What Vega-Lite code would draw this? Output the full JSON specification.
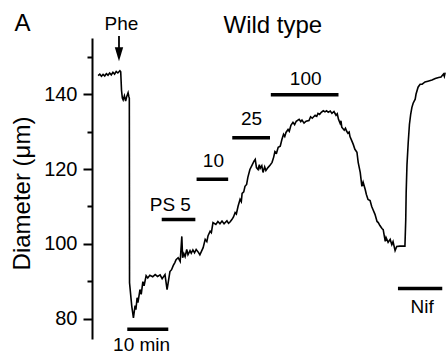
{
  "$schema": "https://vega.github.io/schema/vega-lite/v6.json",
  "width": 356,
  "height": 301,
  "autosize": {"type": "none"},
  "padding": {"left": 92, "top": 38, "right": 0, "bottom": 15},
  "background": "white",
  "config": {"view": {"stroke": null}, "font": "Liberation Sans"},
  "datasets": {
    "trace": [
      {"t":1.5,"d":145.0},{"t":1.9,"d":145.4},{"t":2.3,"d":144.8},{"t":2.7,"d":145.3},{"t":3.1,"d":144.9},{"t":3.5,"d":145.5},{"t":3.9,"d":145.1},{"t":4.3,"d":145.7},{"t":4.7,"d":145.2},{"t":5.1,"d":145.9},{"t":5.5,"d":145.4},{"t":5.9,"d":146.1},{"t":6.3,"d":145.7},{"t":6.8,"d":146.3},{"t":7.0,"d":146.0},{"t":7.2,"d":141.0},{"t":7.4,"d":139.0},{"t":7.6,"d":138.5},{"t":7.9,"d":139.6},{"t":8.2,"d":138.2},{"t":8.5,"d":139.5},{"t":8.8,"d":140.4},{"t":9.0,"d":139.3},{"t":9.1,"d":139.0},
      {"t":9.15,"d":89.6},{"t":9.7,"d":83.3},{"t":10.1,"d":80.2},{"t":10.5,"d":83.5},{"t":10.7,"d":82.4},{"t":11.0,"d":85.6},{"t":11.2,"d":84.3},{"t":11.7,"d":87.8},{"t":12.0,"d":86.5},{"t":12.4,"d":89.9},{"t":12.7,"d":88.8},{"t":13.2,"d":91.5},{"t":13.6,"d":90.9},{"t":14.1,"d":91.6},{"t":14.8,"d":91.2},{"t":15.4,"d":91.8},{"t":16.0,"d":91.3},{"t":16.6,"d":91.7},{"t":17.1,"d":90.7},{"t":17.8,"d":91.8},{"t":18.3,"d":87.8},{"t":18.5,"d":89.1},{"t":19.0,"d":92.6},{"t":19.4,"d":93.1},{"t":19.8,"d":94.2},{"t":20.2,"d":95.0},{"t":20.5,"d":95.8},{"t":21.0,"d":96.3},{"t":21.5,"d":95.3},{"t":21.9,"d":102.0},{"t":22.1,"d":96.3},{"t":22.4,"d":97.4},{"t":22.7,"d":96.6},{"t":23.1,"d":98.5},{"t":23.4,"d":97.1},{"t":23.9,"d":98.2},{"t":24.2,"d":97.5},{"t":24.6,"d":98.4},{"t":25.0,"d":97.6},{"t":25.4,"d":98.5},{"t":25.9,"d":97.8},{"t":26.3,"d":97.1},{"t":27.1,"d":99.0},{"t":27.6,"d":101.2},{"t":28.0,"d":100.6},{"t":28.3,"d":102.2},{"t":28.8,"d":103.4},{"t":29.1,"d":103.0},{"t":29.5,"d":105.7},{"t":30.2,"d":105.2},{"t":30.7,"d":106.0},{"t":31.2,"d":105.4},{"t":31.7,"d":106.1},{"t":32.2,"d":105.4},{"t":32.9,"d":106.2},{"t":33.3,"d":105.5},{"t":33.7,"d":105.9},{"t":34.1,"d":106.5},{"t":34.5,"d":107.2},{"t":34.9,"d":108.4},{"t":35.2,"d":108.0},{"t":35.6,"d":110.0},{"t":36.1,"d":111.9},{"t":36.4,"d":111.3},{"t":36.6,"d":113.5},{"t":37.0,"d":113.9},{"t":37.3,"d":115.4},{"t":37.7,"d":115.9},{"t":38.0,"d":117.8},{"t":38.5,"d":119.9},{"t":39.0,"d":121.0},{"t":39.5,"d":122.1},{"t":39.8,"d":122.6},{"t":40.1,"d":120.4},{"t":40.5,"d":119.9},{"t":40.8,"d":121.2},{"t":41.0,"d":120.2},{"t":41.4,"d":120.9},{"t":41.7,"d":119.1},{"t":42.1,"d":120.6},{"t":42.4,"d":119.6},{"t":42.9,"d":120.4},{"t":43.4,"d":121.0},{"t":43.9,"d":121.8},{"t":44.3,"d":123.2},{"t":44.6,"d":124.7},{"t":45.0,"d":124.3},{"t":45.4,"d":125.8},{"t":45.9,"d":126.1},{"t":46.3,"d":127.9},{"t":46.7,"d":129.3},{"t":47.0,"d":128.7},{"t":47.3,"d":129.8},{"t":47.8,"d":130.6},{"t":48.1,"d":130.1},{"t":48.5,"d":131.7},{"t":49.0,"d":132.5},{"t":49.4,"d":131.9},{"t":49.8,"d":132.8},{"t":50.5,"d":133.3},{"t":50.9,"d":132.7},{"t":51.2,"d":133.1},{"t":51.7,"d":132.3},{"t":52.2,"d":132.8},{"t":52.9,"d":133.0},{"t":53.3,"d":134.0},{"t":53.7,"d":133.6},{"t":54.4,"d":134.4},{"t":54.8,"d":134.1},{"t":55.1,"d":134.9},{"t":55.5,"d":134.6},{"t":55.9,"d":135.2},{"t":56.4,"d":135.6},{"t":56.8,"d":135.3},{"t":57.2,"d":135.6},{"t":57.6,"d":135.2},{"t":58.1,"d":135.5},{"t":58.5,"d":134.9},{"t":59.0,"d":135.4},{"t":59.5,"d":134.4},{"t":59.8,"d":134.8},{"t":60.1,"d":133.3},{"t":60.5,"d":132.2},{"t":60.7,"d":132.9},{"t":60.9,"d":131.2},{"t":61.5,"d":130.4},{"t":61.8,"d":130.9},{"t":62.1,"d":130.1},{"t":62.4,"d":129.6},{"t":62.7,"d":129.9},{"t":62.9,"d":128.7},{"t":63.4,"d":127.4},{"t":63.7,"d":126.6},{"t":64.1,"d":125.3},{"t":64.6,"d":124.5},{"t":64.9,"d":121.8},{"t":65.4,"d":119.1},{"t":65.8,"d":115.4},{"t":66.1,"d":116.5},{"t":66.6,"d":114.6},{"t":66.9,"d":113.2},{"t":67.3,"d":111.9},{"t":67.8,"d":111.6},{"t":68.2,"d":110.0},{"t":68.5,"d":109.2},{"t":69.0,"d":107.9},{"t":69.5,"d":106.0},{"t":69.8,"d":105.7},{"t":70.2,"d":104.9},{"t":70.7,"d":104.1},{"t":71.0,"d":103.8},{"t":71.5,"d":100.7},{"t":71.7,"d":101.7},{"t":72.2,"d":100.4},{"t":72.7,"d":101.2},{"t":73.1,"d":99.8},{"t":73.4,"d":100.6},{"t":73.9,"d":98.2},{"t":74.3,"d":99.3},{"t":75.1,"d":99.4},{"t":76.3,"d":99.4},
      {"t":76.5,"d":106.5},{"t":76.6,"d":113.7},{"t":76.8,"d":121.2},{"t":77.1,"d":127.1},{"t":77.4,"d":132.0},{"t":77.7,"d":134.6},{"t":78.0,"d":136.5},{"t":78.3,"d":137.6},{"t":78.8,"d":138.7},{"t":79.0,"d":140.0},{"t":79.5,"d":141.9},{"t":80.0,"d":142.7},{"t":80.5,"d":142.7},{"t":81.2,"d":143.3},{"t":81.9,"d":143.5},{"t":82.9,"d":143.8},{"t":83.7,"d":144.2},{"t":84.5,"d":144.5},{"t":85.1,"d":144.6},{"t":85.7,"d":145.4},{"t":85.9,"d":144.8},{"t":86.1,"d":145.8}
    ],
    "bars": [
      {"name":"10 min","t1":8.6,"t2":18.6,"d":77.2},
      {"name":"PS 5","t1":17.0,"t2":25.2,"d":106.5},
      {"name":"10","t1":25.5,"t2":33.2,"d":117.3},
      {"name":"25","t1":34.2,"t2":43.4,"d":128.4},
      {"name":"100","t1":43.6,"t2":60.1,"d":139.9},
      {"name":"Nif","t1":74.6,"t2":85.4,"d":88.1}
    ],
    "labels": [
      {"label":"Phe","t":7.2,"d":157.1},
      {"label":"PS 5","t":19.1,"d":108.9},
      {"label":"10","t":29.6,"d":120.6},
      {"label":"25","t":38.9,"d":131.8},
      {"label":"100","t":52.1,"d":142.5},
      {"label":"Nif","t":80.5,"d":81.6},
      {"label":"10 min","t":12.1,"d":71.4}
    ],
    "headings": [
      {"label":"A","t":-16.95,"d":156.8},
      {"label":"Wild type","t":44.1,"d":156.4}
    ],
    "arrow": [
      {"t":6.58,"d1":155.6,"d2":152.4,"head":150.7}
    ]
  },
  "resolve": {"axis": {"y": "independent"}},
  "layer": [
    {
      "data": {"name": "trace"},
      "mark": {"type": "line", "color": "black", "strokeWidth": 1.6, "strokeJoin": "miter"},
      "encoding": {
        "x": {"field": "t", "type": "quantitative", "scale": {"domain": [0, 86.8], "nice": false, "zero": false}, "axis": null},
        "y": {
          "field": "d", "type": "quantitative",
          "scale": {"domain": [74.57, 155.05], "nice": false, "zero": false},
          "axis": {
            "orient": "left", "values": [80, 100, 120, 140], "grid": false,
            "domainColor": "black", "domainWidth": 2,
            "tickColor": "black", "tickWidth": 2, "tickSize": 9,
            "labelColor": "black", "labelFontSize": 20, "labelPadding": 6, "labelFont": "Liberation Sans",
            "title": "Diameter (μm)", "titleFont": "Liberation Sans", "titleFontSize": 24, "titleFontWeight": "normal", "titleColor": "black",
            "titleAngle": -90, "titleAlign": "center", "titleBaseline": "middle", "titleX": -70, "titleY": 155
          }
        }
      }
    },
    {
      "data": {"name": "trace"},
      "mark": {"type": "point", "opacity": 0},
      "encoding": {
        "x": {"field": "t", "type": "quantitative", "axis": null},
        "y": {
          "field": "d", "type": "quantitative",
          "axis": {
            "orient": "left", "values": [90, 110, 130, 150], "grid": false, "domain": false, "labels": false,
            "tickColor": "black", "tickWidth": 2, "tickSize": 5, "title": null
          }
        }
      }
    },
    {
      "data": {"name": "bars"},
      "mark": {"type": "rule", "color": "black", "strokeWidth": 3.5},
      "encoding": {
        "x": {"field": "t1", "type": "quantitative", "axis": null},
        "x2": {"field": "t2"},
        "y": {"field": "d", "type": "quantitative", "axis": null}
      }
    },
    {
      "data": {"name": "arrow"},
      "mark": {"type": "rule", "color": "black", "strokeWidth": 1.8},
      "encoding": {
        "x": {"field": "t", "type": "quantitative", "axis": null},
        "y": {"field": "d1", "type": "quantitative", "axis": null},
        "y2": {"field": "d2"}
      }
    },
    {
      "data": {"name": "arrow"},
      "mark": {"type": "point", "shape": "M-0.6,-1L0.6,-1L0,1Z", "filled": true, "color": "black", "opacity": 1, "size": 196},
      "encoding": {
        "x": {"field": "t", "type": "quantitative", "axis": null},
        "y": {"field": "head", "type": "quantitative", "axis": null}
      }
    },
    {
      "data": {"name": "labels"},
      "mark": {"type": "text", "font": "Liberation Sans", "fontSize": 19, "color": "black", "align": "center", "baseline": "alphabetic"},
      "encoding": {
        "x": {"field": "t", "type": "quantitative", "axis": null},
        "y": {"field": "d", "type": "quantitative", "axis": null},
        "text": {"field": "label"}
      }
    },
    {
      "data": {"name": "headings"},
      "mark": {"type": "text", "font": "Liberation Sans", "fontSize": 24, "color": "black", "align": "center", "baseline": "alphabetic"},
      "encoding": {
        "x": {"field": "t", "type": "quantitative", "axis": null},
        "y": {"field": "d", "type": "quantitative", "axis": null},
        "text": {"field": "label"}
      }
    }
  ]
}
